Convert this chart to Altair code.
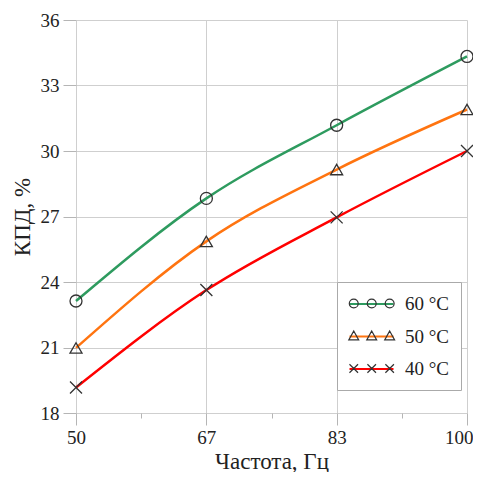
import altair as alt
import pandas as pd

# ---- data ----
freq = [50, 66.67, 83.33, 100]
series_names = ["60 °C", "50 °C", "40 °C"]
eff_60 = [23.13, 27.83, 31.18, 34.33]
eff_50 = [20.98, 25.86, 29.15, 31.9]
eff_40 = [19.17, 23.63, 26.96, 30.0]

colors = ["#2e9b5f", "#ff7410", "#ff0000"]

x_major = [50, 66.67, 83.33, 100]
x_ticks = [50, 58.33, 66.67, 75, 83.33, 91.67, 100]
y_major = [18, 21, 24, 27, 30, 33, 36]
y_ticks = [18, 19.5, 21, 22.5, 24, 25.5, 27, 28.5, 30, 31.5, 33, 34.5, 36]

rows = []
for name, vals in zip(series_names, [eff_60, eff_50, eff_40]):
    for f, v in zip(freq, vals):
        rows.append({"freq": f, "eff": v, "series": name})
df = pd.DataFrame(rows)

FONT = "Liberation Serif"

# marker shapes on the plot
X_PATH = "M-1,-1L1,1M-1,1L1,-1"
plot_shapes = ["circle", "triangle-up", X_PATH]


def circ(cx, r=0.47):
    return f"M{cx - r},0a{r},{r} 0 1,0 {2 * r},0a{r},{r} 0 1,0 {-2 * r},0"


def tri(cx, r=0.52):
    return f"M{cx},{-r}L{cx + r},{0.8 * r}L{cx - r},{0.8 * r}Z"


def cross(cx, r=0.45):
    return f"M{cx - r},{-r}L{cx + r},{r}M{cx - r},{r}L{cx + r},{-r}"


centers = [-0.5, 1.39, 3.28]
legend_shapes = [
    "".join(circ(c) for c in centers),
    "".join(tri(c) for c in centers),
    "".join(cross(c) for c in centers),
]

x_test = f"indexof({x_major}, datum.value) >= 0"
y_test = f"indexof({y_major}, datum.value) >= 0"
last_test = f"datum.value == {x_major[-1]}"

x_enc = alt.X(
    "freq:Q",
    scale=alt.Scale(domain=[50, 100], nice=False, zero=False),
    axis=alt.Axis(
        title="Частота, Гц",
        values=x_ticks,
        format=".0f",
        labelExpr=f"{x_test} ? datum.label : ''",
        labelFlush=False,
        labelAlign={"condition": {"test": last_test, "value": "right"}, "value": "center"},
        labelOffset={"condition": {"test": last_test, "value": 6}, "value": 0},
        tickSize={"condition": {"test": x_test, "value": 12}, "value": 5},
        gridOpacity={"condition": {"test": x_test, "value": 1}, "value": 0},
        labelPadding=3,
        titlePadding=3,
    ),
)
y_enc = alt.Y(
    "eff:Q",
    scale=alt.Scale(domain=[18, 36], nice=False, zero=False),
    axis=alt.Axis(
        title="КПД, %",
        values=y_ticks,
        labelExpr=f"{y_test} ? datum.label : ''",
        labelFlush=False,
        tickSize={"condition": {"test": y_test, "value": 13}, "value": 6},
        gridOpacity={"condition": {"test": y_test, "value": 1}, "value": 0},
        labelPadding=4,
        titlePadding=6,
    ),
)

LEG_X, LEG_Y = 261, 262
leg_common = dict(
    orient="none",
    legendX=LEG_X,
    legendY=LEG_Y,
    title=None,
    padding=11,
    rowPadding=11.5,
    labelOffset=35,
    labelFont=FONT,
    labelFontSize=19,
    labelColor="#222",
    symbolSize=361,
)

lines = alt.Chart(df).mark_line(interpolate="monotone", strokeWidth=2.5).encode(
    x=x_enc,
    y=y_enc,
    color=alt.Color(
        "series:N",
        scale=alt.Scale(domain=series_names, range=colors),
        sort=series_names,
        legend=alt.Legend(
            symbolType="M-1,0H3.63",
            symbolStrokeWidth=2.2,
            fillColor="white",
            strokeColor="#aaaaaa",
            zindex=1,
            **leg_common,
        ),
    ),
)

points = alt.Chart(df).mark_point(
    filled=False, size=144, strokeWidth=1.3, color="#333333", opacity=1
).encode(
    x="freq:Q",
    y="eff:Q",
    shape=alt.Shape(
        "series:N",
        scale=alt.Scale(domain=series_names, range=plot_shapes),
        legend=None,
    ),
)

legend_marks = alt.Chart(df).mark_point(
    filled=False, size=361, strokeWidth=1.2, color="#333333", opacity=0
).encode(
    x="freq:Q",
    y="eff:Q",
    shape=alt.Shape(
        "series:N",
        scale=alt.Scale(domain=series_names, range=legend_shapes),
        sort=series_names,
        legend=alt.Legend(
            symbolStrokeWidth=1.2,
            symbolStrokeColor="#333333",
            symbolFillColor="transparent",
            labelOpacity=0,
            zindex=2,
            **leg_common,
        ),
    ),
)

chart = (
    alt.layer(lines, points, legend_marks)
    .resolve_scale(shape="independent")
    .properties(
        width=391,
        height=393,
        autosize=alt.AutoSizeParams(type="none"),
        padding={"left": 68, "top": 12, "right": 6, "bottom": 59},
    )
    .configure_view(stroke=None)
    .configure_axis(
        labelFont=FONT,
        titleFont=FONT,
        labelFontSize=19,
        titleFontSize=23,
        titleFontWeight="normal",
        labelColor="#222222",
        titleColor="#222222",
        gridColor="#cfcfcf",
        gridWidth=1,
        tickColor="#b5b5b5",
        domain=False,
    )
)

chart.save("out.html", embed_options={"renderer": "svg", "actions": False})
